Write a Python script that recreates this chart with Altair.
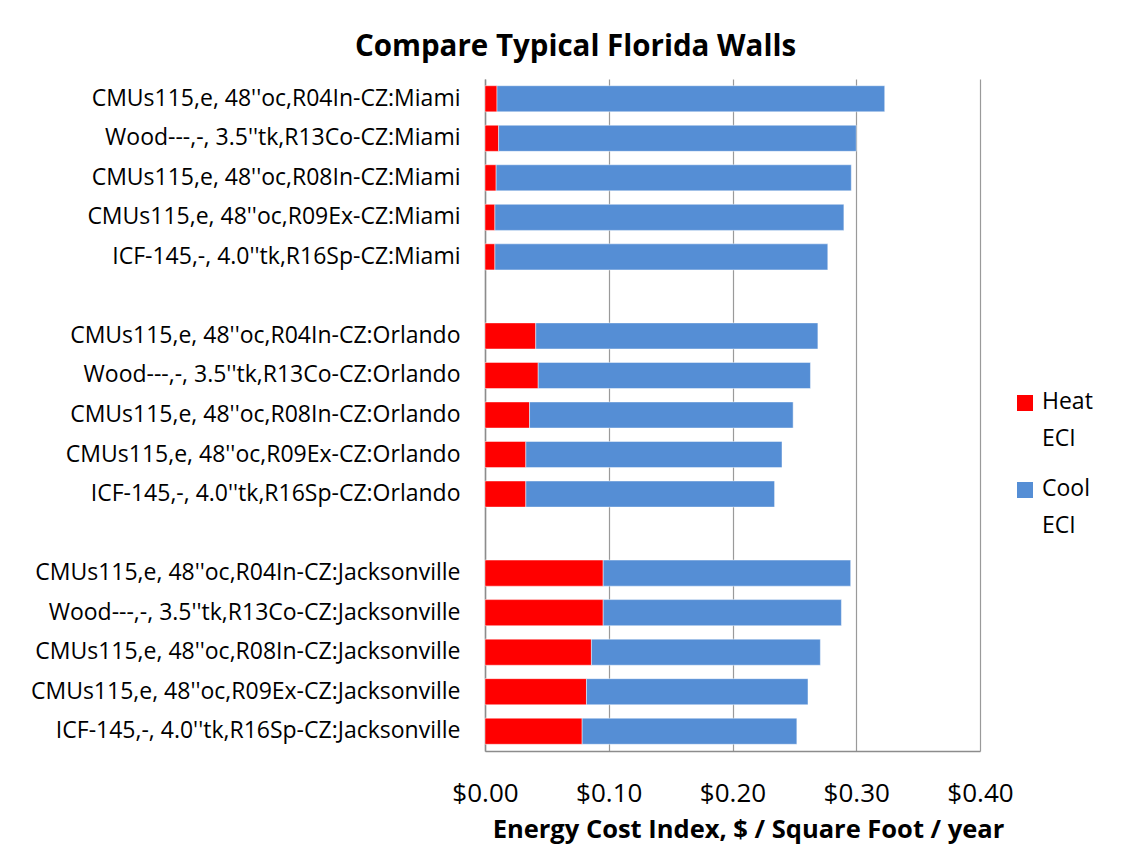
import altair as alt
import pandas as pd

categories = [
    "CMUs115,e, 48''oc,R04In-CZ:Miami",
    "Wood---,-, 3.5''tk,R13Co-CZ:Miami",
    "CMUs115,e, 48''oc,R08In-CZ:Miami",
    "CMUs115,e, 48''oc,R09Ex-CZ:Miami",
    "ICF-145,-, 4.0''tk,R16Sp-CZ:Miami",
    " ",
    "CMUs115,e, 48''oc,R04In-CZ:Orlando",
    "Wood---,-, 3.5''tk,R13Co-CZ:Orlando",
    "CMUs115,e, 48''oc,R08In-CZ:Orlando",
    "CMUs115,e, 48''oc,R09Ex-CZ:Orlando",
    "ICF-145,-, 4.0''tk,R16Sp-CZ:Orlando",
    "  ",
    "CMUs115,e, 48''oc,R04In-CZ:Jacksonville",
    "Wood---,-, 3.5''tk,R13Co-CZ:Jacksonville",
    "CMUs115,e, 48''oc,R08In-CZ:Jacksonville",
    "CMUs115,e, 48''oc,R09Ex-CZ:Jacksonville",
    "ICF-145,-, 4.0''tk,R16Sp-CZ:Jacksonville",
]

walls = [c for c in categories if c.strip()]

heat_eci = [0.0097, 0.011, 0.009, 0.008, 0.008,
            0.041, 0.043, 0.036, 0.033, 0.033,
            0.0955, 0.0955, 0.086, 0.082, 0.0785]
cool_eci = [0.3133, 0.289, 0.287, 0.282, 0.269,
            0.228, 0.220, 0.213, 0.207, 0.201,
            0.200, 0.1925, 0.185, 0.179, 0.1735]

series = ["Heat ECI", "Cool ECI"]
colors = ["#FF0000", "#558ED5"]
x_ticks = [0.0, 0.1, 0.2, 0.3, 0.4]

rows = []
for w, h, c in zip(walls, heat_eci, cool_eci):
    rows.append({"wall": w, "series": "Heat ECI", "value": h, "ord": 0})
    rows.append({"wall": w, "series": "Cool ECI", "value": c, "ord": 1})
df = pd.DataFrame(rows)

legend_df = pd.DataFrame({"series": series, "lines": [s.split(" ") for s in series]})

FONT = "Open Sans"
color_scale = alt.Scale(domain=series, range=colors)

bars = alt.Chart(df).mark_bar(stroke="#ffffff", strokeOpacity=0.45, strokeWidth=1).encode(
    y=alt.Y("wall:N", sort=categories,
            scale=alt.Scale(domain=categories, paddingInner=0.34, paddingOuter=0.17),
            axis=alt.Axis(title=None, ticks=False, labelPadding=25, labelLimit=600,
                          labelFontSize=23, labelFont=FONT, labelColor="#000000",
                          domainColor="#8c8c8c", domainWidth=1.5)),
    x=alt.X("value:Q", stack="zero",
            scale=alt.Scale(domain=[0, 0.4], nice=False),
            axis=alt.Axis(values=x_ticks, format="$.2f", ticks=False, labelFlush=False,
                          title="Energy Cost Index, $ / Square Foot / year",
                          titleFont=FONT, titleFontSize=25.5, titleFontWeight="bold",
                          titleColor="#000000", titlePadding=11, titleX=263,
                          labelFont=FONT, labelFontSize=26, labelColor="#000000",
                          labelPadding=29, grid=True, gridColor="#9a9a9a",
                          gridWidth=1.2, domainColor="#8c8c8c", domainWidth=1.5)),
    color=alt.Color("series:N", scale=color_scale, legend=None),
    order=alt.Order("ord:Q"),
)

# legend drawn as its own small layer (squares + two-line labels)
legend_y = alt.Y("series:N", sort=series, axis=None,
                 scale=alt.Scale(type="point", domain=series, range=[324, 411], padding=0))

legend_squares = alt.Chart(legend_df).mark_square(size=256, opacity=1).encode(
    x=alt.value(540),
    y=legend_y,
    color=alt.Color("series:N", scale=color_scale, legend=None),
)

legend_text = alt.Chart(legend_df).mark_text(
    align="left", baseline="top", lineHeight=37, font=FONT, fontSize=23, color="#000000",
    dy=-12,
).encode(
    x=alt.value(557),
    y=legend_y,
    text=alt.Text("lines"),
)

chart = alt.layer(bars, legend_squares, legend_text).resolve_scale(
    y="independent"
).properties(
    width=495,
    height=672,
    autosize=alt.AutoSizeParams(type="none"),
    padding={"left": 477, "top": 71, "right": 158, "bottom": 100},
    title=alt.TitleParams("Compare Typical Florida Walls", anchor="middle", frame="group",
                          dx=-157, offset=17, font=FONT, fontSize=29.5, fontWeight="bold",
                          color="#000000"),
).configure_view(stroke=None)

chart.save("out.html", embed_options={"renderer": "svg", "actions": False})
